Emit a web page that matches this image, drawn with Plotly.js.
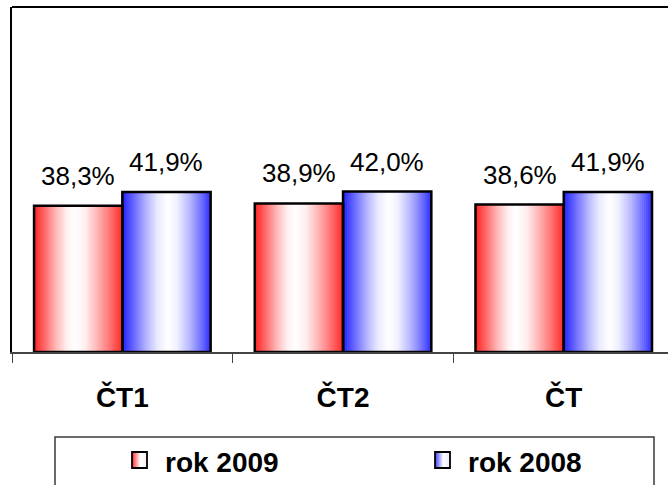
<!DOCTYPE html>
<html>
<head>
<meta charset="utf-8">
<script src="https://cdn.plot.ly/plotly-3.0.1.min.js"></script>
<style>html,body{margin:0;padding:0;background:#fff;}#chart{width:668px;height:485px;}</style>
</head>
<body>
<div id="chart"></div>
<script>
// ---- data ----
const categories = ['ČT1', 'ČT2', 'ČT'];
const seriesNames = ['rok 2009', 'rok 2008'];
const values2009 = [38.3, 38.9, 38.6];
const values2008 = [41.9, 42.0, 41.9];

// ---- style ----
const FONT = 'Liberation Sans, Arial, Helvetica, sans-serif';
const W = 668, H = 485;
const M = {l: 12, r: 0, t: 7, b: 133};
const PW = W - M.l - M.r, PH = H - M.t - M.b;
const X = px => (px - M.l) / PW;
const Y = py => (H - M.b - py) / PH;

const redStops = [[0,[255,35,35]],[0.12,[255,105,105]],[0.25,[255,185,185]],[0.37,[255,240,240]],[0.46,[255,255,255]],[0.58,[255,238,238]],[0.72,[255,180,180]],[0.88,[255,105,105]],[1,[255,40,40]]];
const blueStops = [[0,[35,35,255]],[0.12,[100,100,255]],[0.27,[180,180,255]],[0.4,[235,235,255]],[0.52,[255,255,255]],[0.62,[240,240,255]],[0.76,[185,185,255]],[0.9,[110,110,255]],[1,[45,45,255]]];
const redLegendStops = [[0,[255,40,40]],[0.55,[255,255,255]],[1,[255,235,235]]];
const blueLegendStops = [[0,[60,60,255]],[0.55,[255,255,255]],[1,[235,235,255]]];

function colorAt(stops, f) {
  for (let i = 1; i < stops.length; i++) {
    if (f <= stops[i][0]) {
      const [f0, c0] = stops[i-1], [f1, c1] = stops[i];
      const t = (f - f0) / (f1 - f0);
      const c = c0.map((v, j) => Math.round(v + (c1[j] - v) * t));
      return 'rgb(' + c.join(',') + ')';
    }
  }
  return 'rgb(' + stops[stops.length-1][1].join(',') + ')';
}

const fmt = v => v.toFixed(1).replace('.', ',') + '%';

const BARW = 0.4;
const series = [
  {name: seriesNames[0], vals: values2009, off: -BARW, stops: redStops, legendStops: redLegendStops, legendX: 132},
  {name: seriesNames[1], vals: values2008, off: 0, stops: blueStops, legendStops: blueLegendStops, legendX: 435}
];

const traces = [];
const N = 44;
series.forEach(s => {
  const w = BARW / N;
  for (let k = 0; k < N; k++) {
    traces.push({
      type: 'bar', x: categories, y: s.vals,
      offset: s.off + k * w, width: Math.min(w * 1.6, BARW - k * w),
      marker: {color: colorAt(s.stops, (k + 0.5) / N), line: {width: 0}},
      hoverinfo: 'skip', showlegend: false
    });
  }
});
series.forEach(s => {
  traces.push({
    type: 'bar', x: categories, y: s.vals, name: s.name,
    offset: s.off, width: BARW,
    marker: {color: 'rgba(0,0,0,0)', line: {color: '#000', width: 2.5}},
    showlegend: false
  });
});

const annotations = [];
series.forEach(s => {
  s.vals.forEach((v, i) => {
    annotations.push({
      x: i + s.off + BARW / 2, y: v, xref: 'x', yref: 'y',
      text: fmt(v), showarrow: false, yanchor: 'bottom', yshift: 13,
      font: {family: FONT, size: 26, color: '#000'}
    });
  });
});

const shapes = [
  {type: 'line', xref: 'paper', yref: 'paper', x0: 0, x1: 1.03, y0: 1, y1: 1, line: {color: '#000', width: 2.2}},
  {type: 'rect', xref: 'paper', yref: 'paper', x0: X(55), x1: X(654), y0: Y(437), y1: Y(510), line: {color: '#3a3a3a', width: 1.5}, fillcolor: 'rgba(0,0,0,0)'}
];
series.forEach(s => {
  const x0 = s.legendX, sw = 15, top = 452, bot = 468, M2 = 15;
  for (let k = 0; k < M2; k++) {
    shapes.push({type: 'rect', xref: 'paper', yref: 'paper',
      x0: X(x0 + k * sw / M2), x1: X(x0 + Math.min((k + 1.6) * sw / M2, sw)), y0: Y(bot), y1: Y(top),
      line: {width: 0}, fillcolor: colorAt(s.legendStops, (k + 0.5) / M2)});
  }
  shapes.push({type: 'rect', xref: 'paper', yref: 'paper', x0: X(x0), x1: X(x0 + sw), y0: Y(bot), y1: Y(top),
    line: {color: '#000', width: 1.8}, fillcolor: 'rgba(0,0,0,0)'});
  annotations.push({
    xref: 'paper', yref: 'paper', x: X(x0 + 31), y: Y(462), xanchor: 'left', yanchor: 'middle',
    text: s.name, showarrow: false, font: {family: FONT, size: 28, color: '#000', weight: 'bold'}
  });
});

const layout = {
  width: W, height: H, margin: M,
  paper_bgcolor: '#fff', plot_bgcolor: '#fff',
  barmode: 'overlay', showlegend: false,
  xaxis: {
    type: 'category', range: [-0.5, -0.5 + PW / 220.7],
    tickson: 'boundaries', ticks: 'outside', ticklen: 9, tickwidth: 1, tickcolor: '#444',
    showline: true, linecolor: '#444', linewidth: 1.5,
    showgrid: false, zeroline: false, ticklabelstandoff: 20,
    tickfont: {family: FONT, size: 28, color: '#000', weight: 'bold'}
  },
  yaxis: {
    range: [0, 90.3], showline: true, linecolor: '#000', linewidth: 2.2,
    showgrid: false, zeroline: false, showticklabels: false, ticks: ''
  },
  shapes: shapes,
  annotations: annotations
};

Plotly.newPlot('chart', traces, layout, {displayModeBar: false, staticPlot: true});
</script>
</body>
</html>
